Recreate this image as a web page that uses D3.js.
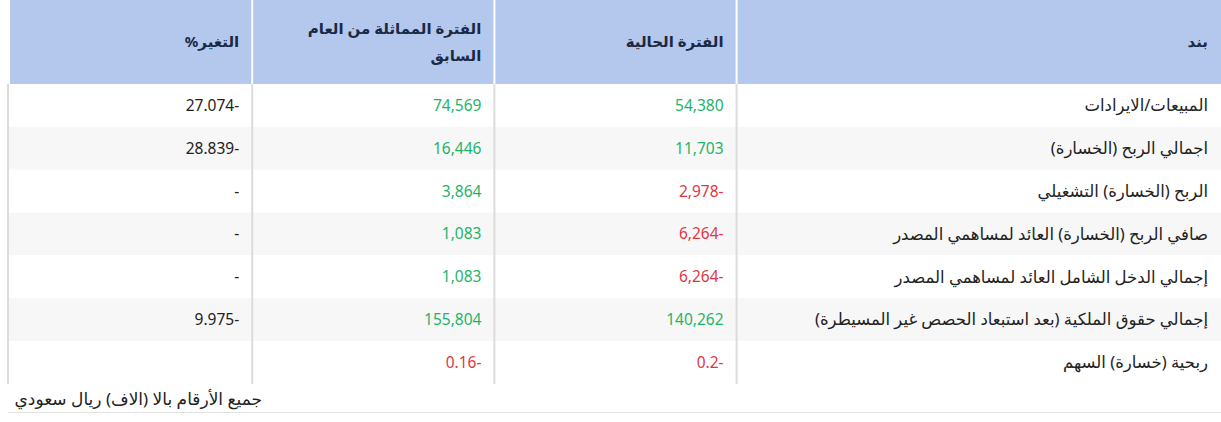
<!DOCTYPE html>
<html>
<head>
<meta charset="utf-8">
<script src="https://cdn.jsdelivr.net/npm/d3@7"></script>
<style>
  html, body { margin: 0; padding: 0; background: #fff; }
  svg { display: block; font-family: "Noto Sans", "DejaVu Sans", sans-serif; }
  text { direction: rtl; unicode-bidi: embed; }
</style>
</head>
<body>
<div id="chart"></div>
<script>
// header labels, one array per column, split into lines
const headers = [["بند"], ["الفترة الحالية"], ["الفترة المماثلة من العام", "السابق"], ["التغير%"]];
const colWeights = [2, 1, 1, 1];

const items = [
  "المبيعات/الايرادات",
  "اجمالي الربح (الخسارة)",
  "الربح (الخسارة) التشغيلي",
  "صافي الربح (الخسارة) العائد لمساهمي المصدر",
  "إجمالي الدخل الشامل العائد لمساهمي المصدر",
  "إجمالي حقوق الملكية (بعد استبعاد الحصص غير المسيطرة)",
  "ربحية (خسارة) السهم"
];
const current = [54380, 11703, -2978, -6264, -6264, 140262, -0.2];
const previous = [74569, 16446, 3864, 1083, 1083, 155804, -0.16];
const change = [-27.074, -28.839, "-", "-", "-", -9.975, ""];

const note = "جميع الأرقام بالا (الاف) ريال سعودي";

const width = 1221, height = 422;
const left = 10, right = 1221, headTop = 0, headBottom = 84, bodyBottom = 384;

const loc = d3.formatLocale({decimal: ".", thousands: ",", grouping: [3], currency: ["", ""], minus: "-"});
const fmtNum = loc.format(",");
const fmtPct = loc.format(".3f");

// columns run right to left
const cum = [0];
colWeights.forEach((w, i) => cum.push(cum[i] + w));
const x = d3.scaleLinear().domain([0, d3.sum(colWeights)]).range([right, left]);

const y = d3.scaleBand().domain(d3.range(items.length)).range([headBottom, bodyBottom]);

const svg = d3.select('#chart')
.append('svg')
.attr('width', width)
.attr('height', height);

// header
svg.append('rect')
.attr('x', left)
.attr('y', headTop)
.attr('width', right - left)
.attr('height', headBottom - headTop)
.attr('fill', '#b4c7ed');

// striped rows
svg.append('g')
.selectAll('rect')
.data(items)
.enter()
.append('rect')
.attr('x', left - 2)
.attr('y', (d, i) => y(i))
.attr('width', right - left + 2)
.attr('height', y.bandwidth())
.attr('fill', (d, i) => i % 2 ? '#f7f7f7' : '#fff');

// column separators
const seps = cum.slice(1, -1);
svg.append('g')
.selectAll('line')
.data(seps)
.enter()
.append('line')
.attr('x1', d => x(d)).attr('x2', d => x(d))
.attr('y1', headTop).attr('y2', headBottom)
.attr('stroke', '#fff')
.attr('stroke-width', 2);

svg.append('g')
.selectAll('line')
.data(seps)
.enter()
.append('line')
.attr('x1', d => x(d)).attr('x2', d => x(d))
.attr('y1', headBottom).attr('y2', bodyBottom)
.attr('stroke', '#dcdcdc')
.attr('stroke-width', 2);

// left border and bottom line
svg.append('line')
.attr('x1', left - 2).attr('x2', left - 2)
.attr('y1', headBottom).attr('y2', bodyBottom)
.attr('stroke', '#dcdcdc')
.attr('stroke-width', 2);

svg.append('line')
.attr('x1', left - 2).attr('x2', right)
.attr('y1', 412.5).attr('y2', 412.5)
.attr('stroke', '#e2e2e2')
.attr('stroke-width', 1);

const pad = 13;

// header labels
const head = svg.append('g')
.selectAll('text')
.data(headers)
.enter()
.append('text')
.attr('x', (d, i) => x(cum[i]) - pad)
.attr('y', d => (headTop + headBottom) / 2 - (d.length - 1) * 13.5)
.attr('text-anchor', 'start')
.attr('font-size', 15)
.attr('font-weight', 'bold')
.attr('fill', '#1b2a44');

head.selectAll('tspan')
.data(d => d)
.enter()
.append('tspan')
.attr('x', function() { return d3.select(this.parentNode).attr('x'); })
.attr('dy', (d, j) => j ? 27 : '0.35em')
.text(d => d);

// body cells
const cells = [];
items.forEach((d, i) => {
  cells.push({row: i, col: 0, text: d, fill: '#222', size: 16.5});
  cells.push({row: i, col: 1, text: fmtNum(current[i]), fill: current[i] < 0 ? '#e2363f' : '#1fb46a', size: 15.5});
  cells.push({row: i, col: 2, text: fmtNum(previous[i]), fill: previous[i] < 0 ? '#e2363f' : '#1fb46a', size: 15.5});
  cells.push({row: i, col: 3, text: typeof change[i] === 'number' ? fmtPct(change[i]) : change[i], fill: '#222', size: 15.5});
});

svg.append('g')
.selectAll('text')
.data(cells)
.enter()
.append('text')
.attr('x', d => x(cum[d.col]) - pad)
.attr('y', d => y(d.row) + y.bandwidth() / 2)
.attr('dy', '0.35em')
.attr('text-anchor', 'start')
.attr('font-size', d => d.size)
.attr('fill', d => d.fill)
.text(d => d.text);

// footnote
svg.append('text')
.attr('x', 262)
.attr('y', 399)
.attr('dy', '0.35em')
.attr('text-anchor', 'start')
.attr('font-size', 17)
.attr('fill', '#222')
.text(note);
</script>
</body>
</html>
